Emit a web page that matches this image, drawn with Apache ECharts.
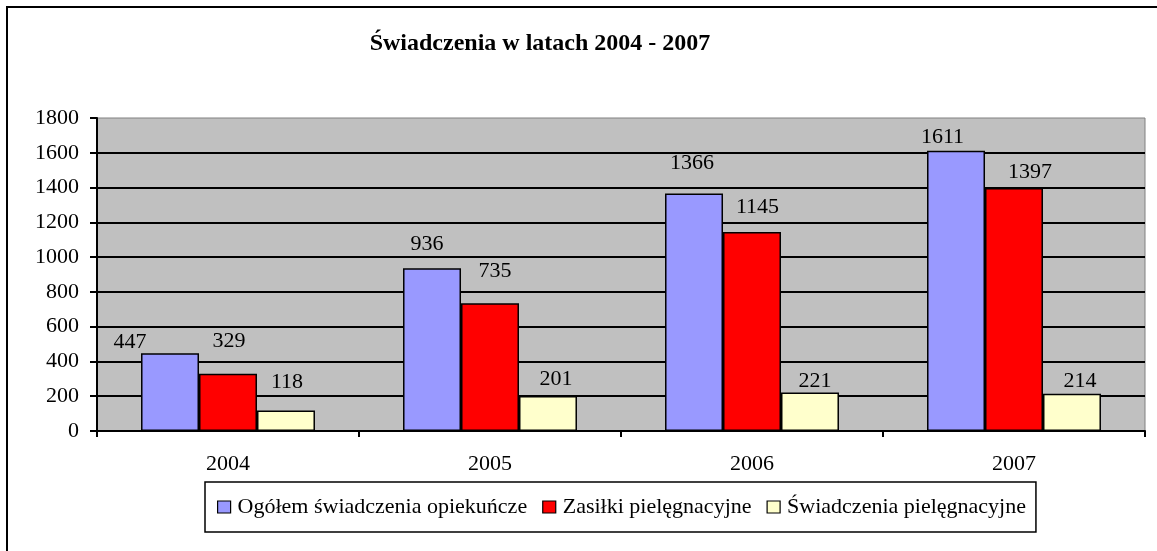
<!DOCTYPE html>
<html>
<head>
<meta charset="utf-8">
<title>Świadczenia w latach 2004 - 2007</title>
<script src="https://cdn.jsdelivr.net/npm/echarts@6/dist/echarts.min.js"></script>
<style>
  html, body { margin: 0; padding: 0; background: #fff; }
  #chart { width: 1157px; height: 551px; }
</style>
</head>
<body>
<div id="chart"></div>
<script>
// Categories and values
const years = ['2004', '2005', '2006', '2007'];
const seriesNames = ['Ogółem świadczenia opiekuńcze', 'Zasiłki pielęgnacyjne', 'Świadczenia pielęgnacyjne'];
const ogolem = [447, 936, 1366, 1611];
const zasilki = [329, 735, 1145, 1397];
const swiadczenia = [118, 201, 221, 214];
const yMin = 0, yMax = 1800, yStep = 200;

// Hand-placed value labels: [dx, dy] nudges from the default "top" spot
const ogolemNudge = [[-40, 0], [-5, -13.5], [-2, -19], [-13.5, -3]];
const zasilkiNudge = [[1, -22], [5, -20.5], [5.5, -14], [16, -4.5]];
const swiadczeniaNudge = [[1, -17], [8, -6], [5, -0.5], [8, -2]];

const FONT = '"Liberation Serif", "Times New Roman", serif';
const colors = ['#9999FF', '#FF0000', '#FFFFCC'];

function withNudges(values, nudges) {
  return values.map((v, i) => ({ value: v, label: { offset: nudges[i] } }));
}

function barSeries(name, values, nudges, color) {
  return {
    name: name,
    type: 'bar',
    barGap: '0%',
    barCategoryGap: '33.6%',
    itemStyle: { color: color, borderColor: '#000', borderWidth: 1.5 },
    label: {
      show: true,
      position: 'top',
      distance: 0,
      color: '#000',
      fontFamily: FONT,
      fontSize: 22,
      lineHeight: 22
    },
    emphasis: { disabled: true },
    data: withNudges(values, nudges)
  };
}

const chart = echarts.init(document.getElementById('chart'));
chart.setOption({
  animation: false,
  backgroundColor: '#fff',
  title: {
    text: 'Świadczenia w latach 2004 - 2007',
    left: 540,
    top: 32,
    textAlign: 'center',
    padding: 0,
    textStyle: { fontFamily: FONT, fontSize: 24, fontWeight: 'bold', color: '#000', lineHeight: 24 }
  },
  graphic: [{
    type: 'rect',
    z: -10,
    shape: { x: 7, y: 7, width: 1200, height: 600 },
    style: { fill: 'none', stroke: '#000', lineWidth: 2 }
  }],
  legend: {
    left: 205,
    top: 482,
    orient: 'horizontal',
    itemWidth: 13,
    itemHeight: 12,
    itemGap: 15,
    padding: [14, 10, 14, 12],
    borderColor: '#000',
    borderWidth: 1.5,
    icon: 'rect',
    selectedMode: false,
    itemStyle: { borderWidth: 1.2 },
    textStyle: { fontFamily: FONT, fontSize: 22, color: '#000', padding: [0, 0, 0, 2] },
    data: seriesNames
  },
  grid: {
    left: 97, right: 12, top: 118, bottom: 120,
    show: true,
    backgroundColor: '#C0C0C0',
    borderColor: '#808080',
    borderWidth: 1
  },
  xAxis: {
    type: 'category',
    data: years,
    axisLine: { lineStyle: { color: '#000', width: 2 } },
    axisTick: { show: true, length: 6, lineStyle: { color: '#000', width: 2 } },
    axisLabel: { margin: 22, color: '#000', fontFamily: FONT, fontSize: 22, lineHeight: 22 },
    splitLine: { show: false }
  },
  yAxis: {
    type: 'value',
    min: yMin,
    max: yMax,
    interval: yStep,
    axisLine: { show: true, lineStyle: { color: '#000', width: 2 } },
    axisTick: { show: true, length: 7, lineStyle: { color: '#000', width: 2 } },
    axisLabel: {
      margin: 18, color: '#000', fontFamily: FONT, fontSize: 22,
      formatter: (v) => String(v)
    },
    splitLine: { show: true, showMaxLine: false, lineStyle: { color: '#000', width: 2 } }
  },
  series: [
    barSeries(seriesNames[0], ogolem, ogolemNudge, colors[0]),
    barSeries(seriesNames[1], zasilki, zasilkiNudge, colors[1]),
    barSeries(seriesNames[2], swiadczenia, swiadczeniaNudge, colors[2])
  ]
});
</script>
</body>
</html>
